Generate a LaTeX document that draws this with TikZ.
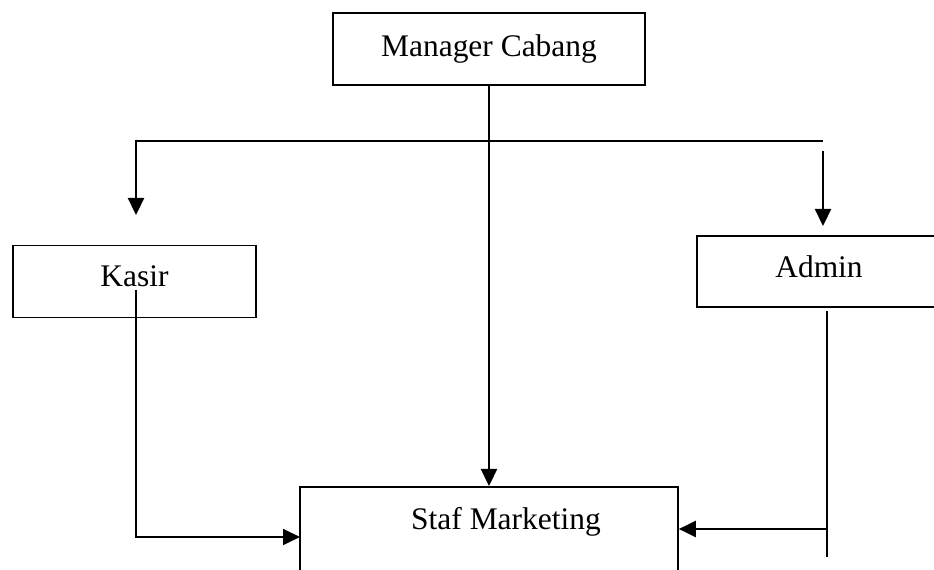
\documentclass[tikz,border=0pt]{standalone}
\usepackage{fontspec}
\setmainfont{Liberation Serif}
\usetikzlibrary{arrows.meta}
\begin{document}
\begin{tikzpicture}[x=0.02cm,y=-0.02cm,
    box/.style={draw,line width=1pt,inner sep=0pt,font=\fontsize{17.9}{20}\selectfont},
    arr/.style={line width=1.3pt,-{Triangle[length=0.34cm,width=0.32cm]}}]
      \useasboundingbox (0,0) rectangle (934,570);

      \node[box,minimum width=6.24cm,minimum height=1.44cm] (mgr) at (489,49) {Manager Cabang};
      \node[box,minimum width=4.86cm,minimum height=1.44cm,text depth=6pt] (kasir) at (134.5,281.5) {Kasir};
      \node[box,minimum width=4.88cm,minimum height=1.42cm,text depth=6pt] (admin) at (819,271.5) {Admin};
      \node[box,minimum width=7.56cm,anchor=north,text height=24pt,text depth=70pt] (staf) at (489,486) {\hspace{0.68cm}Staf Marketing};

      % bus line and free ends
      \coordinate (busL) at (136,141);
      \coordinate (busR) at (823,141);
      \coordinate (kasirIn) at (136,215);
      \coordinate (adminTop) at (823,151);
      \coordinate (adminIn) at (823,226);
      \coordinate (kasirOut) at (136,290);
      \coordinate (stafL) at (300,537);
      \coordinate (adminOut) at (827,311);
      \coordinate (adminEnd) at (827,557);
      \coordinate (adminJoin) at (827,529);

      \draw[arr] (mgr.south) -- (staf.north);
      \draw[arr] (busR) -- (busL) -- (kasirIn);
      \draw[arr] (adminTop) -- (adminIn);
      \draw[arr,line width=1pt] (kasirOut) |- (stafL);
      \draw[line width=1pt] (adminOut) -- (adminEnd);
      \draw[arr] (adminJoin) -- (staf.east |- adminJoin);
\end{tikzpicture}
\end{document}
